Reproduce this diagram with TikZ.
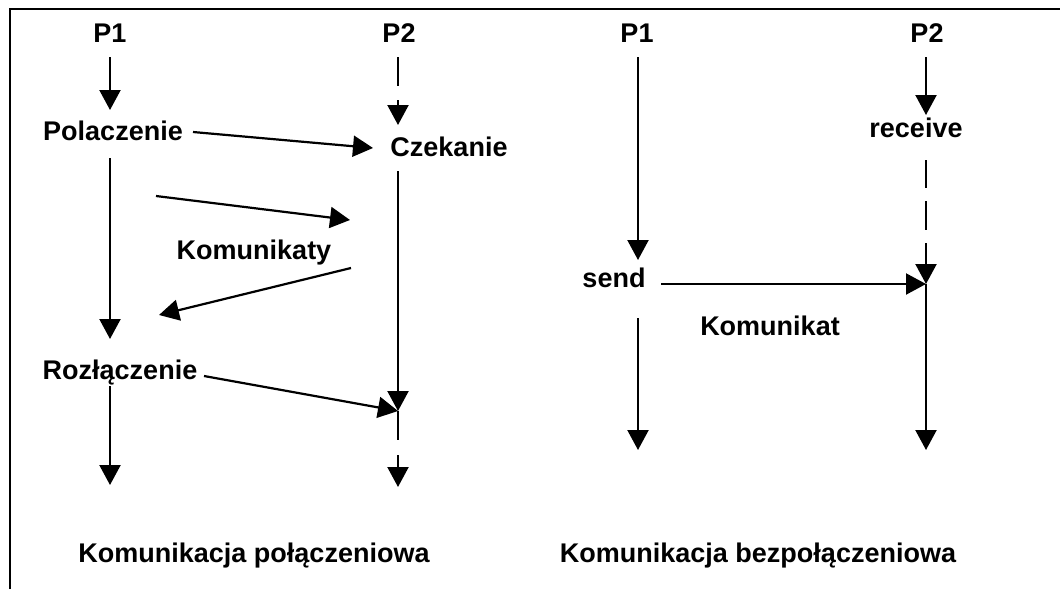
\documentclass[tikz,border=0pt]{standalone}
\usepackage{fontspec}
\setmainfont{Liberation Sans}
\usetikzlibrary{arrows.meta}
\begin{document}
\begin{tikzpicture}[x=1pt,y=-1pt,
  lbl/.style={anchor=base,inner sep=0pt,font=\fontsize{27}{32}\selectfont\bfseries},
  ln/.style={line width=2.2pt},
  arr/.style={line width=2.2pt,-{Triangle[width=21pt,length=20pt]}}]
\useasboundingbox (0,0) rectangle (1060,589);
% frame
\coordinate (fb) at (10,589);
\coordinate (fc) at (10,9);
\coordinate (fr) at (1060,9);
\draw[line width=2.2pt] (fb) -- (fc) -- (fr);

% ---------- connection-oriented ----------
\node[lbl] (p1a) at (110,42) {P1};
\node[lbl] (p2a) at (399,42) {P2};
\node[lbl] (pol) at (113,140) {Polaczenie};
\node[lbl] (cze) at (449,156) {Czekanie};
\node[lbl] (kom) at (254,259) {Komunikaty};
\node[lbl] (roz) at (120,379) {Rozłączenie};
\node[lbl] (tl)  at (254,562) {Komunikacja połączeniowa};

% P1 lifeline
\coordinate (a1) at (110,57);  \coordinate (a2) at (110,110);
\coordinate (a3) at (110,158); \coordinate (a4) at (110,339);
\coordinate (a5) at (110,386); \coordinate (a6) at (110,485);
\draw[arr] (a1) -- (a2);
\draw[arr] (a3) -- (a4);
\draw[arr] (a5) -- (a6);

% P2 lifeline
\coordinate (b1) at (398,57);  \coordinate (b2) at (398,86);
\coordinate (b3) at (398,100); \coordinate (b4) at (398,125);
\coordinate (b5) at (398,171); \coordinate (b6) at (398,411);
\coordinate (b7) at (398,440); \coordinate (b8) at (398,455);
\coordinate (b9) at (398,487);
\draw[ln] (b1) -- (b2);
\draw[arr] (b3) -- (b4);
\draw[arr] (b5) -- (b6);
\draw[ln] (b6) -- (b7);
\draw[arr] (b8) -- (b9);

% messages
\coordinate (m1s) at (193,132); \coordinate (m1e) at (373,148);
\coordinate (m2s) at (156,196); \coordinate (m2e) at (350,220);
\coordinate (m3s) at (351,268); \coordinate (m3e) at (159,315);
\coordinate (m4s) at (204,376);
\draw[arr] (m1s) -- (m1e);
\draw[arr] (m2s) -- (m2e);
\draw[arr] (m3s) -- (m3e);
\draw[arr] (m4s) -- (b6);

% ---------- connectionless ----------
\node[lbl] (p1b) at (637,42) {P1};
\node[lbl] (p2b) at (927,42) {P2};
\node[lbl] (rcv) at (916,137) {receive};
\node[lbl] (snd) at (614,287) {send};
\node[lbl] (kmt) at (770,335) {Komunikat};
\node[lbl] (tr)  at (758,562) {Komunikacja bezpołączeniowa};

% P1 lifeline
\coordinate (c1) at (638,57);  \coordinate (c2) at (638,260);
\coordinate (c3) at (638,318); \coordinate (c4) at (638,450);
\draw[arr] (c1) -- (c2);
\draw[arr] (c3) -- (c4);

% P2 lifeline
\coordinate (d1) at (926,57);  \coordinate (d2) at (926,115);
\coordinate (d3) at (926,160); \coordinate (d4) at (926,188);
\coordinate (d5) at (926,201); \coordinate (d6) at (926,230);
\coordinate (d7) at (926,243); \coordinate (d8) at (926,284);
\coordinate (d9) at (926,450);
\draw[arr] (d1) -- (d2);
\draw[ln] (d3) -- (d4);
\draw[ln] (d5) -- (d6);
\draw[arr] (d7) -- (d8);
\draw[arr] (d8) -- (d9);

% message
\coordinate (s1) at (661,284);
\draw[arr] (s1) -- (d8);
\end{tikzpicture}
\end{document}
